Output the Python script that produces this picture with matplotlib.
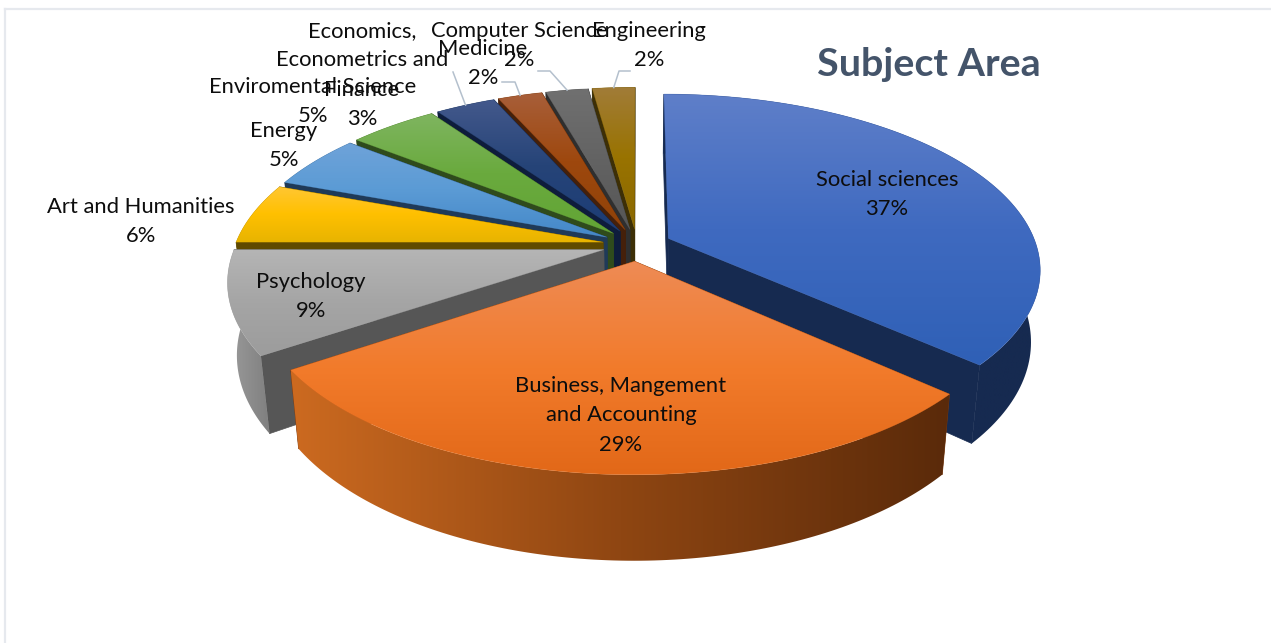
import numpy as np
import matplotlib
matplotlib.use("Agg")
import matplotlib.pyplot as plt
from matplotlib.colors import LinearSegmentedColormap
from matplotlib.patches import Polygon

subjects = ["Social sciences", "Business, Mangement\nand Accounting", "Psychology",
            "Art and Humanities", "Energy", "Enviromental Science",
            "Economics,\nEconometrics and\nFinance", "Medicine", "Computer Science", "Engineering"]
# labels show them rounded
shares = [36.6, 29.0, 9.4, 5.6, 5.0, 4.6, 3.1, 2.3, 2.2, 2.2]
title = "Subject Area"

# label anchor: centre x, y of first line
label_pos = [(887, 180), (621, 386), (311, 282), (141, 207), (284, 131),
             (313, 87), (362, 31), (483, 49), (519, 31), (649, 31)]
# elbow points of the leader lines, keyed by slice index
leaders = {6: [(453, 72)], 7: [(502, 82), (515, 82)], 8: [(538, 71), (550, 71)], 9: [(630, 71), (619, 71)]}

top_colors = [["#5f7fc9", "#3f6ac0", "#2f60b6"], ["#ee8b55", "#f27b2b", "#e26818"],
              ["#b5b5b5", "#a5a5a5", "#9c9c9c"], ["#ffc734", "#ffc000", "#e8b400"],
              ["#6fa3d9", "#5b9bd5", "#4488c8"], ["#7fb560", "#6aaa3e", "#62a535"],
              ["#44598c", "#264478", "#1c3c75"], ["#a85f3a", "#9e480e", "#8f4208"],
              ["#707070", "#636363", "#555555"], ["#a17c38", "#997300", "#8a6800"]]
wall_colors = [["#162a50", "#162a50"], ["#cc6a20", "#8f4612", "#5a2a0a"], ["#9c9c9c", "#7f7f7f"],
               ["#5f4a00", "#5f4a00"], ["#1f3a58", "#1f3a58"], ["#2f4b1c", "#2f4b1c"],
               ["#0e1d3c", "#0e1d3c"], ["#45200a", "#45200a"], ["#2f2f2f", "#2f2f2f"], ["#3d2f06", "#3d2f06"]]
cut_colors = ["#162a50", "#7a3a10", "#565656", "#5f4a00", "#1f3a58", "#2f4b1c",
              "#0e1d3c", "#45200a", "#2f2f2f", "#3d2f06"]

# projection of the tilted pie, in pixels
CX, CY = 637, 245
SX, SY = 368, 171
PERSP = 0.17
EXPLODE = 0.094
DEPTH = 70
SHRINK = 0.977


def project(X, Y):
    w = 1 + PERSP * Y
    return CX + SX * X / w, CY - SY * Y / w, w


def lower(x, y, w):
    return CX + (x - CX) * SHRINK, y + DEPTH / w


def gradient_fill(ax, pts, colors, horizontal=False, zorder=1):
    pts = np.asarray(pts)
    xmin, ymin = pts.min(axis=0)
    xmax, ymax = pts.max(axis=0)
    cmap = LinearSegmentedColormap.from_list("g", colors)
    grad = np.linspace(0, 1, 256)
    grad = grad[None, :] if horizontal else grad[:, None]
    img = ax.imshow(grad, cmap=cmap, extent=(xmin, xmax, ymax, ymin), aspect="auto", zorder=zorder,
                    interpolation="bilinear", vmin=0, vmax=1)
    patch = Polygon(pts, closed=True, transform=ax.transData, fc="none", ec="none")
    ax.add_patch(patch)
    img.set_clip_path(patch)


def draw_slice(ax, a1, a2, idx, zorder):
    mid = (a1 + a2) / 2
    ex, ey = EXPLODE * np.sin(mid), EXPLODE * np.cos(mid)
    ang = np.linspace(a1, a2, 120)
    ax0, ay0, aw0 = project(ex, ey)
    rx, ry, rw = project(ex + np.sin(ang), ey + np.cos(ang))
    lx, ly = lower(rx, ry, rw)
    bx0, by0 = lower(ax0, ay0, aw0)

    # the two cut faces, then the rim, then the top
    for k in (0, -1):
        face = [(ax0, ay0), (rx[k], ry[k]), (lx[k], ly[k]), (bx0, by0)]
        ax.add_patch(Polygon(face, closed=True, fc=cut_colors[idx], ec=cut_colors[idx], lw=0.5, zorder=zorder))
    wall = np.column_stack([np.r_[rx, lx[::-1]], np.r_[ry, ly[::-1]]])
    gradient_fill(ax, wall, wall_colors[idx], horizontal=True, zorder=zorder + 0.1)
    top = np.column_stack([np.r_[ax0, rx], np.r_[ay0, ry]])
    gradient_fill(ax, top, top_colors[idx], zorder=zorder + 0.2)
    ax.add_patch(Polygon(top, closed=True, fc="none", ec=top_colors[idx][1], lw=0.4, alpha=0.5, zorder=zorder + 0.3))
    return rx[len(rx) // 2], ry[len(ry) // 2]


fig = plt.figure(figsize=(12.71, 6.43), dpi=100)
ax = fig.add_axes([0, 0, 1, 1])

edges = np.radians(np.r_[0, np.cumsum(shares)] * 3.6)
order = sorted(range(len(shares)), key=lambda i: -np.cos((edges[i] + edges[i + 1]) / 2))
rim_mid = {}
for z, i in enumerate(order):
    rim_mid[i] = draw_slice(ax, edges[i], edges[i + 1], i, 2 + z)

ax.set_xlim(0, 1271)
ax.set_ylim(643, 0)
ax.axis("off")

# chart frame
ax.plot([5, 1271], [9, 9], color="#e6e9ee", lw=1.6, zorder=1)
ax.plot([5, 5], [9, 643], color="#e6e9ee", lw=1.6, zorder=1)

for i, elbow in leaders.items():
    xs = [p[0] for p in elbow] + [rim_mid[i][0]]
    ys = [p[1] for p in elbow] + [rim_mid[i][1]]
    ax.plot(xs, ys, color="#b4c0cd", lw=1.1, zorder=30)

for name, share, (x, y) in zip(subjects, shares, label_pos):
    lines = name.split("\n") + [f"{round(share)}%"]
    for n, line in enumerate(lines):
        ax.text(x, y + n * 29.3, line, ha="center", va="center", fontsize=15.8, family="Lato",
                color="#0d0d0d", zorder=40)

ax.text(929, 64, title, ha="center", va="center", fontsize=28.4, family="Lato", fontweight="bold",
        color="#44546a", zorder=40)

fig.savefig("out.png", dpi=100)
